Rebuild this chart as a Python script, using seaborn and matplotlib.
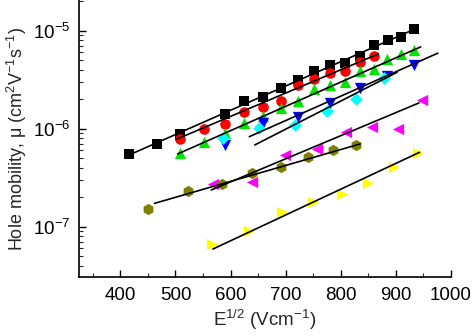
import numpy as np
import pandas as pd
import matplotlib
matplotlib.use("Agg")
import matplotlib.pyplot as plt
import seaborn as sns
from matplotlib.ticker import LogLocator, LogFormatterSciNotation, MultipleLocator

sns.set_theme(style="ticks")
plt.rcParams['font.family'] = ['Liberation Sans', 'DejaVu Sans']
plt.rcParams['mathtext.fontset'] = 'custom'
plt.rcParams['mathtext.rm'] = 'Liberation Sans'
plt.rcParams['mathtext.it'] = 'Liberation Sans:italic'
plt.rcParams['mathtext.default'] = 'regular'
plt.rcParams['axes.unicode_minus'] = False

# ---- data (E^1/2 in Vcm^-1, mobility in cm2/Vs) ----
sq_x = [416, 466, 509, 589, 624, 658, 691, 722, 751, 780, 808, 835, 860, 886, 910, 933]
sq_y = [5.52e-7, 6.98e-7, 8.83e-7, 1.41e-6, 1.92e-6, 2.11e-6, 2.60e-6, 3.14e-6, 3.88e-6,
        4.47e-6, 4.68e-6, 5.52e-6, 7.14e-6, 8.03e-6, 8.63e-6, 1.04e-5]
ci_x = [509, 551, 589, 624, 658, 691, 722, 751, 780, 808, 835, 860]
ci_y = [7.80e-7, 9.86e-7, 1.12e-6, 1.48e-6, 1.65e-6, 1.90e-6, 2.77e-6, 3.19e-6, 3.73e-6,
        3.88e-6, 4.74e-6, 5.49e-6]
up_x = [509, 551, 589, 624, 658, 691, 722, 751, 780, 808, 835, 860, 884, 910, 933]
up_y = [5.69e-7, 7.32e-7, 8.98e-7, 1.14e-6, 1.33e-6, 1.63e-6, 1.93e-6, 2.52e-6, 2.81e-6,
        3.00e-6, 3.84e-6, 4.02e-6, 5.14e-6, 5.82e-6, 6.35e-6]
dn_x = [589, 658, 722, 780, 835, 884, 933]
dn_y = [6.82e-7, 1.14e-6, 1.32e-6, 1.83e-6, 2.60e-6, 3.45e-6, 4.47e-6]
di_x = [587, 651, 717, 775, 828, 879]
di_y = [8.04e-7, 1.02e-6, 1.08e-6, 1.53e-6, 2.01e-6, 3.29e-6]
lt_x = [569, 638, 699, 757, 809, 857, 904, 948]
lt_y = [2.73e-7, 2.89e-7, 5.39e-7, 6.16e-7, 9.15e-7, 1.04e-6, 9.82e-7, 1.96e-6]
hx_x = [451, 522, 585, 638, 691, 740, 786, 828]
hx_y = [1.52e-7, 2.31e-7, 2.73e-7, 3.57e-7, 4.11e-7, 5.08e-7, 6.07e-7, 6.74e-7]
rt_x = [566, 633, 693, 749, 802, 850, 897, 941]
rt_y = [6.74e-8, 9.04e-8, 1.42e-7, 1.79e-7, 2.16e-7, 2.79e-7, 4.04e-7, 5.61e-7]

series_names = ["sq", "ci", "up", "dn", "di", "lt", "hx", "rt"]
series_x = [sq_x, ci_x, up_x, dn_x, di_x, lt_x, hx_x, rt_x]
series_y = [sq_y, ci_y, up_y, dn_y, di_y, lt_y, hx_y, rt_y]
colors = ["#000000", "#ff0000", "#00e600", "#0000ff", "#00ffff", "#ff00ff", "#808000", "#ffff00"]
markers = ["s", "o", "^", "v", "D", "<", "h", ">"]
sizes = [50, 58, 66, 66, 42, 66, 66, 66]

# fitted lines: endpoints
fit_x = [[416, 935], [501, 868], [504, 945], [634, 976], [644, 902], [565, 942], [462, 835], [568, 943]]
fit_y = [[5.39e-7, 1.04e-5], [7.76e-7, 5.78e-6], [5.52e-7, 6.82e-6], [8.28e-7, 5.88e-6],
         [6.82e-7, 3.75e-6], [2.37e-7, 1.83e-6], [1.73e-7, 6.98e-7], [5.92e-8, 5.74e-7]]

x_ticks = [400, 500, 600, 700, 800, 900, 1000]

rows = []
for n, xs, ys in zip(series_names, series_x, series_y):
    for a, b in zip(xs, ys):
        rows.append((n, a, b))
df = pd.DataFrame(rows, columns=["series", "x", "y"])
frows = []
for n, xs, ys in zip(series_names, fit_x, fit_y):
    for a, b in zip(xs, ys):
        frows.append((n, a, b))
fdf = pd.DataFrame(frows, columns=["series", "x", "y"])

fig = plt.figure(figsize=(4.74, 3.36), dpi=100)
ax = fig.add_axes([0.1667, 0.1756, 0.7848, 0.8244])

for n, c, m, s in zip(series_names, colors, markers, sizes):
    sns.scatterplot(data=df[df.series == n], x="x", y="y", color=c, marker=m, s=s,
                    linewidth=0, ax=ax, zorder=2, legend=False)
sns.lineplot(data=fdf, x="x", y="y", units="series", estimator=None, color="black",
             linewidth=1.2, ax=ax, zorder=3, legend=False)

ax.set_yscale("log")
ax.set_xlim(325, 1000)
ax.set_ylim(3.07e-8, 2.05e-5)
ax.set_xticks(x_ticks)
ax.xaxis.set_minor_locator(MultipleLocator(50))
ax.yaxis.set_major_locator(LogLocator(base=10))
ax.yaxis.set_minor_locator(LogLocator(base=10, subs=np.arange(2, 10)))
ax.yaxis.set_major_formatter(LogFormatterSciNotation())
ax.tick_params(axis="both", which="major", direction="in", length=5, width=1,
               labelsize=13.5, colors="black")
ax.tick_params(axis="x", which="major", pad=7)
ax.tick_params(axis="y", which="major", pad=6)
ax.tick_params(axis="both", which="minor", direction="in", length=3, width=0.8)
ax.tick_params(axis="y", which="minor", labelleft=False)
for sp in ["top", "right"]:
    ax.spines[sp].set_visible(False)
for sp in ["left", "bottom"]:
    ax.spines[sp].set_linewidth(1.2)
    ax.spines[sp].set_color("black")

ax.set_xlabel(r"E$^{1/2}$ (Vcm$^{-1}$)", fontsize=13.5, labelpad=3)
ax.set_ylabel(r"Hole mobility, μ (cm$^{2}$V$^{-1}$s$^{-1}$)", fontsize=13, labelpad=3)

fig.savefig("out.png", dpi=100)
